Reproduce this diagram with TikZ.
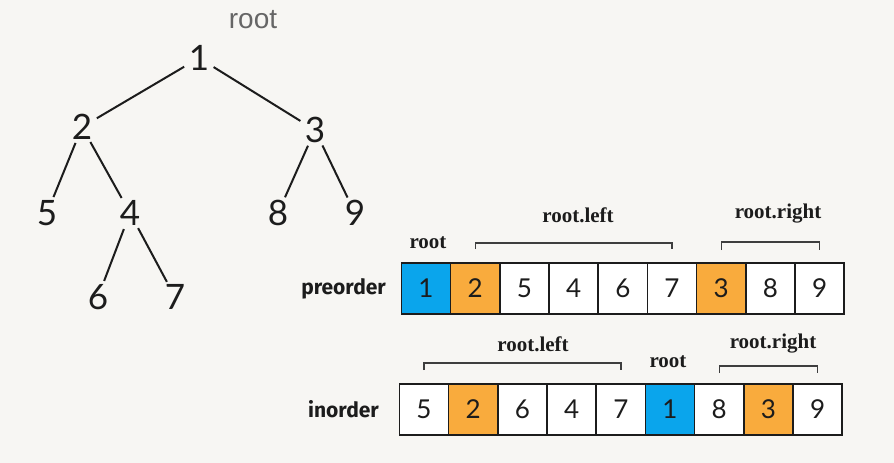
\documentclass[tikz,border=0pt]{standalone}
\usepackage{fontspec}
\usepackage{tikz}
\usetikzlibrary{positioning}

\newfontfamily\treefont{Lato}
\newfontfamily\topfont{Liberation Sans}
\newfontfamily\rowfont{Fira Sans}
\newfontfamily\notefont{Liberation Serif}

\definecolor{bgpaper}{HTML}{F7F6F3}
\definecolor{rootblue}{HTML}{0AA5EC}
\definecolor{suborange}{HTML}{F9AB3D}
\definecolor{inkdark}{HTML}{1C1C1C}

\begin{document}
\begin{tikzpicture}[x=1pt, y=-1pt,
  tnode/.style={circle, inner sep=0pt, minimum size=34pt, text=inkdark, font={\treefont\fontsize{35}{35}\selectfont}},
  edge/.style={line width=2pt, inkdark},
  cell/.style={draw=inkdark, line width=1.6pt, rectangle, minimum width=49.2pt, minimum height=51pt, inner sep=0pt, outer sep=0pt, text=inkdark, font={\treefont\fontsize{26}{26}\selectfont}},
  rowname/.style={font={\rowfont\bfseries\fontsize{21}{21}\selectfont}, text=inkdark},
  note/.style={font={\notefont\bfseries\fontsize{21}{21}\selectfont}, text=inkdark},
  brace/.style={line width=1.4pt, draw=inkdark!85}]
  \fill[bgpaper] (0,0) rectangle (894,463);
  \useasboundingbox (0,0) rectangle (894,463);

  % Tree
  \node[font={\topfont\fontsize{28}{28}\selectfont}, text=black!60] (rootname) at (253,20) {root};
  \node[tnode] (n1) at (199,58) {1};
  \node[tnode] (n2) at (82,127) {2};
  \node[tnode] (n3) at (315,130) {3};
  \node[tnode] (n5) at (47,213) {5};
  \node[tnode] (n4) at (130,213) {4};
  \node[tnode] (n8) at (278,213) {8};
  \node[tnode] (n9) at (355,213) {9};
  \node[tnode] (n6) at (98,297) {6};
  \node[tnode] (n7) at (175,297) {7};

  % Edges
  \draw[edge] (n1) -- (n2);
  \draw[edge] (n1) -- (n3);
  \draw[edge] (n2) -- (n5);
  \draw[edge] (n2) -- (n4);
  \draw[edge] (n3) -- (n8);
  \draw[edge] (n3) -- (n9);
  \draw[edge] (n4) -- (n6);
  \draw[edge] (n4) -- (n7);

  % Preorder row
  \node[cell, fill=rootblue] (pre1) at (426,288.5) {1};
  \node[cell, fill=suborange, right=0pt of pre1] (pre2) {2};
  \node[cell, fill=white, right=0pt of pre2] (pre3) {5};
  \node[cell, fill=white, right=0pt of pre3] (pre4) {4};
  \node[cell, fill=white, right=0pt of pre4] (pre5) {6};
  \node[cell, fill=white, right=0pt of pre5] (pre6) {7};
  \node[cell, fill=suborange, right=0pt of pre6] (pre7) {3};
  \node[cell, fill=white, right=0pt of pre7] (pre8) {8};
  \node[cell, fill=white, right=0pt of pre8] (pre9) {9};
  \node[rowname, left=12pt of pre1] (prename) {preorder};

  % Inorder row
  \node[cell, fill=white] (in1) at (424,409.5) {5};
  \node[cell, fill=suborange, right=0pt of in1] (in2) {2};
  \node[cell, fill=white, right=0pt of in2] (in3) {6};
  \node[cell, fill=white, right=0pt of in3] (in4) {4};
  \node[cell, fill=white, right=0pt of in4] (in5) {7};
  \node[cell, fill=rootblue, right=0pt of in5] (in6) {1};
  \node[cell, fill=white, right=0pt of in6] (in7) {8};
  \node[cell, fill=suborange, right=0pt of in7] (in8) {3};
  \node[cell, fill=white, right=0pt of in8] (in9) {9};
  \node[rowname, left=17pt of in1] (inname) {inorder};

  % Brackets above preorder
  \draw[brace] ([yshift=14pt]pre2.north) -- ++(0,-6) -| ([yshift=14pt]pre6.north);
  \draw[brace] ([yshift=13pt]pre7.north) -- ++(0,-8) -| ([yshift=13pt]pre9.north);
  \node[note] (preroot) at (428,243) {root};
  \node[note] (preleft) at (578,215) {root.left};
  \node[note] (preright) at (778,214) {root.right};

  % Brackets above inorder
  \draw[brace] ([yshift=14pt]in1.north) -- ++(0,-7) -| ([yshift=14pt]in5.north);
  \draw[brace] ([yshift=11pt]in7.north) -- ++(0,-7) -| ([yshift=11pt]in9.north);
  \node[note] (inroot) at (668,362) {root};
  \node[note] (inleft) at (533,344) {root.left};
  \node[note] (inright) at (773,344) {root.right};
\end{tikzpicture}
\end{document}
